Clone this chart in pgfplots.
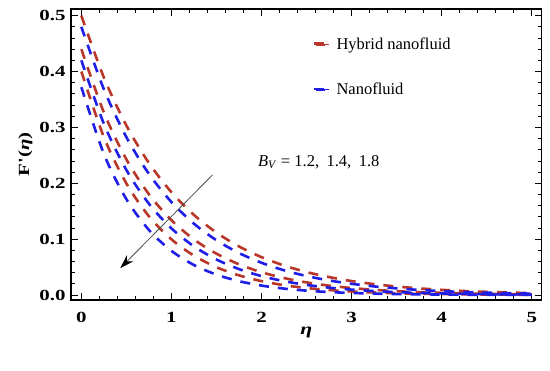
\documentclass[border=0pt]{standalone}
\usepackage{fontspec}
\setmainfont{Liberation Serif}
\newfontfamily\tickfont[FakeStretch=1.35]{Liberation Serif}
\usepackage{pgfplots}
\pgfplotsset{compat=1.18}
\usetikzlibrary{arrows.meta}
\definecolor{hybred}{RGB}{185,55,40}
\definecolor{nfblue}{RGB}{30,30,230}
\begin{document}
\begin{tikzpicture}
\path[use as bounding box] (-71pt,-71pt) rectangle (479pt,300pt);
\begin{axis}[
  at={(0pt,0pt)}, anchor=south west,
  scale only axis, width=470.7pt, height=291pt,
  xmin=-0.115, xmax=5.11, ymin=-0.009, ymax=0.512,
  xtick={0,1,2,3,4,5}, xticklabels={0,1,2,3,4,5},
  ytick={0,0.1,0.2,0.3,0.4,0.5}, yticklabels={0.0,0.1,0.2,0.3,0.4,0.5},
  minor x tick num=4, minor y tick num=4,
  tick align=inside,
  major tick length=7pt, minor tick length=4pt,
  every tick/.style={black, line width=0.8pt},
  axis line style={line width=1.3pt},
  ticklabel style={font=\tickfont\fontsize{15.5}{18}\selectfont\bfseries},
  xticklabel style={yshift=-9pt},
  yticklabel style={xshift=-2pt},
  xlabel={\textbf{\textit{η}}},
  xlabel style={at={(axis description cs:0.5,-0.112)}, anchor=center, font=\tickfont\fontsize{16}{19}\selectfont},
  ylabel={\textbf{F'(\textit{η})}},
  ylabel style={at={(axis description cs:-0.097,0.50)}, anchor=center, font=\tickfont\fontsize{15.5}{18}\selectfont},
  legend style={draw=none, fill=none, at={(rel axis cs:0.51,0.915)}, anchor=north west,
    font=\fontsize{16.5}{18}\selectfont, row sep=28pt},
  legend cell align=left,
]
\addlegendimage{legend image code/.code={\fill[hybred] (0pt,-0.4pt) rectangle (13pt,0.8pt); \path[draw=none] (0pt,0pt) -- (19pt,0pt);}}
\addlegendentry{Hybrid nanofluid}
\addlegendimage{legend image code/.code={\fill[nfblue] (0pt,-0.4pt) rectangle (13pt,0.8pt); \path[draw=none] (0pt,0pt) -- (19pt,0pt);}}
\addlegendentry{Nanofluid}

\pgfplotsset{every axis plot/.append style={line width=2.6pt, dash pattern=on 10pt off 9pt, smooth, forget plot}}
% Hybrid nanofluid, B_V = 1.2, 1.4, 1.8
\addplot[color=hybred] coordinates {(0,0.5000)(0.25,0.3894)(0.5,0.3033)(0.75,0.2362)(1,0.1839)(1.25,0.1433)(1.5,0.1116)(1.75,0.0869)(2,0.0677)(2.25,0.0527)(2.5,0.0410)(2.75,0.0320)(3,0.0249)(3.25,0.0194)(3.5,0.0151)(3.75,0.0118)(4,0.0092)(4.25,0.0071)(4.5,0.0056)(4.75,0.0043)(5,0.0034)};
\addplot[color=hybred] coordinates {(0,0.4400)(0.25,0.3268)(0.5,0.2427)(0.75,0.1803)(1,0.1339)(1.25,0.0994)(1.5,0.0739)(1.75,0.0549)(2,0.0407)(2.25,0.0303)(2.5,0.0225)(2.75,0.0167)(3,0.0124)(3.25,0.0092)(3.5,0.0068)(3.75,0.0051)(4,0.0038)(4.25,0.0028)(4.5,0.0021)(4.75,0.0015)(5,0.0011)};
\addplot[color=hybred] coordinates {(0,0.4000)(0.25,0.2826)(0.5,0.1996)(0.75,0.1410)(1,0.0996)(1.25,0.0704)(1.5,0.0497)(1.75,0.0351)(2,0.0248)(2.25,0.0175)(2.5,0.0124)(2.75,0.0088)(3,0.0062)(3.25,0.0044)(3.5,0.0031)(3.75,0.0022)(4,0.0015)(4.25,0.0011)(4.5,0.0008)(4.75,0.0005)(5,0.0004)};
% Nanofluid
\addplot[color=nfblue] coordinates {(0,0.4800)(0.25,0.3683)(0.5,0.2825)(0.75,0.2168)(1,0.1663)(1.25,0.1276)(1.5,0.0979)(1.75,0.0751)(2,0.0576)(2.25,0.0442)(2.5,0.0339)(2.75,0.0260)(3,0.0200)(3.25,0.0153)(3.5,0.0118)(3.75,0.0090)(4,0.0069)(4.25,0.0053)(4.5,0.0041)(4.75,0.0031)(5,0.0024)};
\addplot[color=nfblue] coordinates {(0,0.4200)(0.25,0.3065)(0.5,0.2237)(0.75,0.1633)(1,0.1192)(1.25,0.0870)(1.5,0.0635)(1.75,0.0463)(2,0.0338)(2.25,0.0247)(2.5,0.0180)(2.75,0.0131)(3,0.0096)(3.25,0.0070)(3.5,0.0051)(3.75,0.0037)(4,0.0027)(4.25,0.0020)(4.5,0.0015)(4.75,0.0011)(5,0.0008)};
\addplot[color=nfblue] coordinates {(0,0.3720)(0.25,0.2525)(0.5,0.1714)(0.75,0.1164)(1,0.0790)(1.25,0.0536)(1.5,0.0364)(1.75,0.0247)(2,0.0168)(2.25,0.0114)(2.5,0.0077)(2.75,0.0052)(3,0.0036)(3.25,0.0024)(3.5,0.0016)(3.75,0.0011)(4,0.0008)(4.25,0.0005)(4.5,0.0004)(4.75,0.0002)(5,0.0002)};

\draw[black!70, line width=0.8pt, -{Stealth[length=14pt,width=9pt,black]}] (axis cs:1.456,0.215) -- (axis cs:0.432,0.048);
\node[anchor=west, inner sep=0pt, font=\fontsize{16.5}{18}\selectfont] at (axis cs:1.96,0.238) {\textit{B}\textsubscript{\textit{V}} = 1.2,\hspace{0.45em}1.4,\hspace{0.45em}1.8};
\end{axis}
\end{tikzpicture}
\end{document}
